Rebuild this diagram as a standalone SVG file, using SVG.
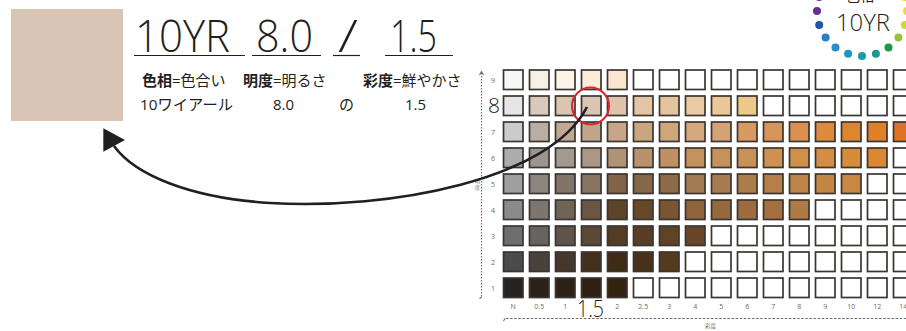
<svg xmlns="http://www.w3.org/2000/svg" width="906" height="331" viewBox="0 0 906 331">
<style>
.c{stroke:#3a3633;stroke-width:1.7}
.w{fill:#ffffff}
.lat{font-family:"Open Sans","Liberation Sans",sans-serif;fill:#231f20}
.jp{font-family:"Open Sans","Noto Sans CJK JP",sans-serif;fill:#231f20}
.rl{font-family:"Open Sans","Liberation Sans",sans-serif;font-size:7px;fill:#6d6a68;text-anchor:middle}
.dot{stroke:none}
</style>
<rect width="906" height="331" fill="#ffffff"/>
<g id="swatch"><rect x="11" y="9" width="112" height="112" fill="#d9c5b5"/></g>
<g id="title">
<text class="lat" x="135" y="52" font-size="44" font-weight="300" textLength="95" lengthAdjust="spacingAndGlyphs">10YR</text>
<text class="lat" x="256" y="52" font-size="44" font-weight="300" textLength="57" lengthAdjust="spacingAndGlyphs">8.0</text>
<text class="lat" x="338" y="52" font-size="44" font-weight="300" textLength="20" lengthAdjust="spacingAndGlyphs">/</text>
<text class="lat" x="390" y="52" font-size="44" font-weight="300" textLength="47" lengthAdjust="spacingAndGlyphs">1.5</text>
<g stroke="#231f20" stroke-width="1.2">
<line x1="134" y1="55.5" x2="245" y2="55.5"/>
<line x1="252" y1="55.5" x2="321" y2="55.5"/>
<line x1="333" y1="55.5" x2="360" y2="55.5"/>
<line x1="385" y1="55.5" x2="453" y2="55.5"/>
</g>
<text class="jp" x="142" y="86" font-size="15"><tspan font-weight="bold">色相</tspan>=色合い</text>
<text class="jp" x="243" y="86" font-size="15"><tspan font-weight="bold">明度</tspan>=明るさ</text>
<text class="jp" x="363" y="86" font-size="15"><tspan font-weight="bold">彩度</tspan>=鮮やかさ</text>
<text class="jp" x="140" y="110" font-size="15" textLength="93" lengthAdjust="spacingAndGlyphs">10ワイアール</text>
<text class="lat" x="273" y="110" font-size="15">8.0</text>
<text class="jp" x="339" y="110" font-size="15">の</text>
<text class="lat" x="405" y="110" font-size="15">1.5</text>
</g>
<g id="huecircle">
<text class="jp" x="846" y="0.5" font-size="14">色相</text>
<circle class="dot" cx="907" cy="11" r="4" fill="#e8dd2c"/>
<circle class="dot" cx="904.8" cy="24.9" r="4" fill="#cddb2f"/>
<circle class="dot" cx="898.4" cy="37.5" r="4" fill="#97c23c"/>
<circle class="dot" cx="888.5" cy="47.4" r="4" fill="#1f9747"/>
<circle class="dot" cx="875.9" cy="53.8" r="4" fill="#189a8d"/>
<circle class="dot" cx="862" cy="56" r="4" fill="#1b9aab"/>
<circle class="dot" cx="848.1" cy="53.8" r="4" fill="#1a97c6"/>
<circle class="dot" cx="835.5" cy="47.4" r="4" fill="#2a8ecd"/>
<circle class="dot" cx="825.6" cy="37.5" r="4" fill="#2780c7"/>
<circle class="dot" cx="819.2" cy="24.9" r="4" fill="#1f58a7"/>
<circle class="dot" cx="817" cy="11" r="4" fill="#6a2e8f"/>
<circle class="dot" cx="819.2" cy="-2.9" r="4" fill="#8c2a8a"/>
<circle class="dot" cx="904.8" cy="-2.9" r="4" fill="#f0d82a"/>
<text class="lat" x="836" y="31" font-size="24" font-weight="300" textLength="54" lengthAdjust="spacingAndGlyphs">10YR</text>
</g>
<g id="axes" fill="none" stroke="#6d6a68" stroke-width="1.1">
<line x1="481.5" y1="73" x2="481.5" y2="297" stroke-dasharray="1.5 1.5"/>
<path d="M479.5,75 L481.5,71.5 L483.5,75"/>
<path d="M481.5,297 L479.5,298.5"/>
<line x1="506" y1="318.5" x2="906" y2="318.5" stroke-dasharray="2.5 1.6"/>
<path d="M505,318.5 L503.5,321"/>
</g>
<g id="axislabels">
<text x="475" y="183" font-family="'Noto Sans CJK JP',sans-serif" font-size="5" fill="#6d6a68">明</text>
<text x="475" y="189" font-family="'Noto Sans CJK JP',sans-serif" font-size="5" fill="#6d6a68">度</text>
<text x="705" y="328" font-family="'Noto Sans CJK JP',sans-serif" font-size="5.5" fill="#6d6a68">彩度</text>
</g>
<g id="rowlabels">
<text class="rl" x="493" y="82.5">9</text>
<text class="lat" x="488" y="113.3" font-size="21" font-weight="300">8</text>
<text class="rl" x="493" y="134.5">7</text>
<text class="rl" x="493" y="160.5">6</text>
<text class="rl" x="493" y="186.5">5</text>
<text class="rl" x="493" y="212.5">4</text>
<text class="rl" x="493" y="238.5">3</text>
<text class="rl" x="493" y="264.5">2</text>
<text class="rl" x="493" y="290.5">1</text>
</g>
<g id="collabels">
<text class="rl" x="513.25" y="309">N</text>
<text class="rl" x="539.25" y="309">0.5</text>
<text class="rl" x="565.25" y="309">1</text>
<text class="lat" x="577" y="316.7" font-size="23" font-weight="300" textLength="27" lengthAdjust="spacingAndGlyphs">1.5</text>
<text class="rl" x="617.25" y="309">2</text>
<text class="rl" x="643.25" y="309">2.5</text>
<text class="rl" x="669.25" y="309">3</text>
<text class="rl" x="695.25" y="309">4</text>
<text class="rl" x="721.25" y="309">5</text>
<text class="rl" x="747.25" y="309">6</text>
<text class="rl" x="773.25" y="309">7</text>
<text class="rl" x="799.25" y="309">8</text>
<text class="rl" x="825.25" y="309">9</text>
<text class="rl" x="851.25" y="309">10</text>
<text class="rl" x="877.25" y="309">12</text>
<text class="rl" x="903.25" y="309">14</text>
</g>
<g id="grid">
<g id="row9" transform="translate(0,70)">
<rect class="c" x="503.5" width="19.5" height="19.5" fill="#f6f7f5"/>
<rect class="c" x="529.5" width="19.5" height="19.5" fill="#f6f1e5"/>
<rect class="c" x="555.5" width="19.5" height="19.5" fill="#fcf4e6"/>
<rect class="c" x="581.5" width="19.5" height="19.5" fill="#fcecda"/>
<rect class="c" x="607.5" width="19.5" height="19.5" fill="#fbe5cf"/>
<rect class="c w" x="633.5" width="19.5" height="19.5"/>
<rect class="c w" x="659.5" width="19.5" height="19.5"/>
<rect class="c w" x="685.5" width="19.5" height="19.5"/>
<rect class="c w" x="711.5" width="19.5" height="19.5"/>
<rect class="c w" x="737.5" width="19.5" height="19.5"/>
<rect class="c w" x="763.5" width="19.5" height="19.5"/>
<rect class="c w" x="789.5" width="19.5" height="19.5"/>
<rect class="c w" x="815.5" width="19.5" height="19.5"/>
<rect class="c w" x="841.5" width="19.5" height="19.5"/>
<rect class="c w" x="867.5" width="19.5" height="19.5"/>
<rect class="c w" x="893.5" width="19.5" height="19.5"/>
</g>
<g id="row8" transform="translate(0,96)">
<rect class="c" x="503.5" width="19.5" height="19.5" fill="#e6e6e7"/>
<rect class="c" x="529.5" width="19.5" height="19.5" fill="#d8c9bc"/>
<rect class="c" x="555.5" width="19.5" height="19.5" fill="#dac5b3"/>
<rect class="c" x="581.5" width="19.5" height="19.5" fill="#dbc5b2"/>
<rect class="c" x="607.5" width="19.5" height="19.5" fill="#dfc4ab"/>
<rect class="c" x="633.5" width="19.5" height="19.5" fill="#e3c4a6"/>
<rect class="c" x="659.5" width="19.5" height="19.5" fill="#e6c39f"/>
<rect class="c" x="685.5" width="19.5" height="19.5" fill="#ebcaa5"/>
<rect class="c" x="711.5" width="19.5" height="19.5" fill="#ecc798"/>
<rect class="c" x="737.5" width="19.5" height="19.5" fill="#efc98b"/>
<rect class="c w" x="763.5" width="19.5" height="19.5"/>
<rect class="c w" x="789.5" width="19.5" height="19.5"/>
<rect class="c w" x="815.5" width="19.5" height="19.5"/>
<rect class="c w" x="841.5" width="19.5" height="19.5"/>
<rect class="c w" x="867.5" width="19.5" height="19.5"/>
<rect class="c w" x="893.5" width="19.5" height="19.5"/>
</g>
<g id="row7" transform="translate(0,122)">
<rect class="c" x="503.5" width="19.5" height="19.5" fill="#cbcbcb"/>
<rect class="c" x="529.5" width="19.5" height="19.5" fill="#b9aea3"/>
<rect class="c" x="555.5" width="19.5" height="19.5" fill="#bfa993"/>
<rect class="c" x="581.5" width="19.5" height="19.5" fill="#c2a68c"/>
<rect class="c" x="607.5" width="19.5" height="19.5" fill="#c7a586"/>
<rect class="c" x="633.5" width="19.5" height="19.5" fill="#cba57f"/>
<rect class="c" x="659.5" width="19.5" height="19.5" fill="#cfa57a"/>
<rect class="c" x="685.5" width="19.5" height="19.5" fill="#d4a97e"/>
<rect class="c" x="711.5" width="19.5" height="19.5" fill="#d5a276"/>
<rect class="c" x="737.5" width="19.5" height="19.5" fill="#d99a62"/>
<rect class="c" x="763.5" width="19.5" height="19.5" fill="#d9945a"/>
<rect class="c" x="789.5" width="19.5" height="19.5" fill="#dc8f4e"/>
<rect class="c" x="815.5" width="19.5" height="19.5" fill="#dc8a3e"/>
<rect class="c" x="841.5" width="19.5" height="19.5" fill="#dd8530"/>
<rect class="c" x="867.5" width="19.5" height="19.5" fill="#df7f28"/>
<rect class="c" x="893.5" width="19.5" height="19.5" fill="#e07226"/>
</g>
<g id="row6" transform="translate(0,148)">
<rect class="c" x="503.5" width="19.5" height="19.5" fill="#acacac"/>
<rect class="c" x="529.5" width="19.5" height="19.5" fill="#9c958d"/>
<rect class="c" x="555.5" width="19.5" height="19.5" fill="#a39a8f"/>
<rect class="c" x="581.5" width="19.5" height="19.5" fill="#aa9785"/>
<rect class="c" x="607.5" width="19.5" height="19.5" fill="#b09274"/>
<rect class="c" x="633.5" width="19.5" height="19.5" fill="#b8926b"/>
<rect class="c" x="659.5" width="19.5" height="19.5" fill="#bf9162"/>
<rect class="c" x="685.5" width="19.5" height="19.5" fill="#c4925d"/>
<rect class="c" x="711.5" width="19.5" height="19.5" fill="#c6925b"/>
<rect class="c" x="737.5" width="19.5" height="19.5" fill="#c99159"/>
<rect class="c" x="763.5" width="19.5" height="19.5" fill="#cd9150"/>
<rect class="c" x="789.5" width="19.5" height="19.5" fill="#d1904a"/>
<rect class="c" x="815.5" width="19.5" height="19.5" fill="#d38e44"/>
<rect class="c" x="841.5" width="19.5" height="19.5" fill="#d78c3b"/>
<rect class="c" x="867.5" width="19.5" height="19.5" fill="#d98831"/>
<rect class="c w" x="893.5" width="19.5" height="19.5"/>
</g>
<g id="row5" transform="translate(0,174)">
<rect class="c" x="503.5" width="19.5" height="19.5" fill="#9f9f9f"/>
<rect class="c" x="529.5" width="19.5" height="19.5" fill="#8b867e"/>
<rect class="c" x="555.5" width="19.5" height="19.5" fill="#817468"/>
<rect class="c" x="581.5" width="19.5" height="19.5" fill="#877562"/>
<rect class="c" x="607.5" width="19.5" height="19.5" fill="#7f6447"/>
<rect class="c" x="633.5" width="19.5" height="19.5" fill="#866848"/>
<rect class="c" x="659.5" width="19.5" height="19.5" fill="#8c6b48"/>
<rect class="c" x="685.5" width="19.5" height="19.5" fill="#a27b55"/>
<rect class="c" x="711.5" width="19.5" height="19.5" fill="#a87b51"/>
<rect class="c" x="737.5" width="19.5" height="19.5" fill="#ad7c4b"/>
<rect class="c" x="763.5" width="19.5" height="19.5" fill="#b48048"/>
<rect class="c" x="789.5" width="19.5" height="19.5" fill="#bc8447"/>
<rect class="c" x="815.5" width="19.5" height="19.5" fill="#c28645"/>
<rect class="c" x="841.5" width="19.5" height="19.5" fill="#c98842"/>
<rect class="c w" x="867.5" width="19.5" height="19.5"/>
<rect class="c w" x="893.5" width="19.5" height="19.5"/>
</g>
<g id="row4" transform="translate(0,200)">
<rect class="c" x="503.5" width="19.5" height="19.5" fill="#8a8a8a"/>
<rect class="c" x="529.5" width="19.5" height="19.5" fill="#7c766f"/>
<rect class="c" x="555.5" width="19.5" height="19.5" fill="#716356"/>
<rect class="c" x="581.5" width="19.5" height="19.5" fill="#6b5543"/>
<rect class="c" x="607.5" width="19.5" height="19.5" fill="#5d4428"/>
<rect class="c" x="633.5" width="19.5" height="19.5" fill="#66482b"/>
<rect class="c" x="659.5" width="19.5" height="19.5" fill="#7a5532"/>
<rect class="c" x="685.5" width="19.5" height="19.5" fill="#8d643b"/>
<rect class="c" x="711.5" width="19.5" height="19.5" fill="#96683d"/>
<rect class="c" x="737.5" width="19.5" height="19.5" fill="#9c6b3e"/>
<rect class="c" x="763.5" width="19.5" height="19.5" fill="#a56f40"/>
<rect class="c" x="789.5" width="19.5" height="19.5" fill="#b07a46"/>
<rect class="c w" x="815.5" width="19.5" height="19.5"/>
<rect class="c w" x="841.5" width="19.5" height="19.5"/>
<rect class="c w" x="867.5" width="19.5" height="19.5"/>
<rect class="c w" x="893.5" width="19.5" height="19.5"/>
</g>
<g id="row3" transform="translate(0,226)">
<rect class="c" x="503.5" width="19.5" height="19.5" fill="#6e6e6e"/>
<rect class="c" x="529.5" width="19.5" height="19.5" fill="#67635f"/>
<rect class="c" x="555.5" width="19.5" height="19.5" fill="#5f5449"/>
<rect class="c" x="581.5" width="19.5" height="19.5" fill="#5b4835"/>
<rect class="c" x="607.5" width="19.5" height="19.5" fill="#553c24"/>
<rect class="c" x="633.5" width="19.5" height="19.5" fill="#583e24"/>
<rect class="c" x="659.5" width="19.5" height="19.5" fill="#604326"/>
<rect class="c" x="685.5" width="19.5" height="19.5" fill="#664528"/>
<rect class="c w" x="711.5" width="19.5" height="19.5"/>
<rect class="c w" x="737.5" width="19.5" height="19.5"/>
<rect class="c w" x="763.5" width="19.5" height="19.5"/>
<rect class="c w" x="789.5" width="19.5" height="19.5"/>
<rect class="c w" x="815.5" width="19.5" height="19.5"/>
<rect class="c w" x="841.5" width="19.5" height="19.5"/>
<rect class="c w" x="867.5" width="19.5" height="19.5"/>
<rect class="c w" x="893.5" width="19.5" height="19.5"/>
</g>
<g id="row2" transform="translate(0,252)">
<rect class="c" x="503.5" width="19.5" height="19.5" fill="#4b4b4b"/>
<rect class="c" x="529.5" width="19.5" height="19.5" fill="#48423d"/>
<rect class="c" x="555.5" width="19.5" height="19.5" fill="#44372b"/>
<rect class="c" x="581.5" width="19.5" height="19.5" fill="#43301f"/>
<rect class="c" x="607.5" width="19.5" height="19.5" fill="#3e2a15"/>
<rect class="c" x="633.5" width="19.5" height="19.5" fill="#4a3218"/>
<rect class="c" x="659.5" width="19.5" height="19.5" fill="#553a1c"/>
<rect class="c w" x="685.5" width="19.5" height="19.5"/>
<rect class="c w" x="711.5" width="19.5" height="19.5"/>
<rect class="c w" x="737.5" width="19.5" height="19.5"/>
<rect class="c w" x="763.5" width="19.5" height="19.5"/>
<rect class="c w" x="789.5" width="19.5" height="19.5"/>
<rect class="c w" x="815.5" width="19.5" height="19.5"/>
<rect class="c w" x="841.5" width="19.5" height="19.5"/>
<rect class="c w" x="867.5" width="19.5" height="19.5"/>
<rect class="c w" x="893.5" width="19.5" height="19.5"/>
</g>
<g id="row1" transform="translate(0,278)">
<rect class="c" x="503.5" width="19.5" height="19.5" fill="#272320"/>
<rect class="c" x="529.5" width="19.5" height="19.5" fill="#2c2318"/>
<rect class="c" x="555.5" width="19.5" height="19.5" fill="#2e2216"/>
<rect class="c" x="581.5" width="19.5" height="19.5" fill="#2f2113"/>
<rect class="c" x="607.5" width="19.5" height="19.5" fill="#33220f"/>
<rect class="c w" x="633.5" width="19.5" height="19.5"/>
<rect class="c w" x="659.5" width="19.5" height="19.5"/>
<rect class="c w" x="685.5" width="19.5" height="19.5"/>
<rect class="c w" x="711.5" width="19.5" height="19.5"/>
<rect class="c w" x="737.5" width="19.5" height="19.5"/>
<rect class="c w" x="763.5" width="19.5" height="19.5"/>
<rect class="c w" x="789.5" width="19.5" height="19.5"/>
<rect class="c w" x="815.5" width="19.5" height="19.5"/>
<rect class="c w" x="841.5" width="19.5" height="19.5"/>
<rect class="c w" x="867.5" width="19.5" height="19.5"/>
<rect class="c w" x="893.5" width="19.5" height="19.5"/>
</g>
</g>
<g id="connectors">
<circle cx="590.5" cy="106" r="18.5" fill="none" stroke="#d8262e" stroke-width="2"/>
<path d="M587,107 C550,180 390,210 270,203 C190,198 135,175 114,146" fill="none" stroke="#231f20" stroke-width="2.6"/>
<polygon points="103.3,128.3 125,140 103.3,151.7" fill="#231f20"/>
</g>
</svg>
